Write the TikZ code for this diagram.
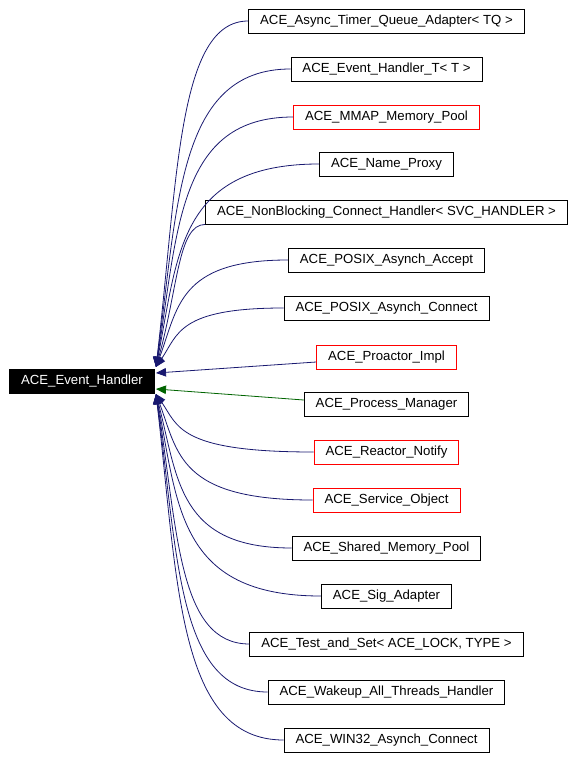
\documentclass[tikz,border=0pt]{standalone}
\usepackage{fontspec}
\setmainfont{Liberation Sans}
\usepackage{xcolor}
\definecolor{dxnavy}{HTML}{191970}
\definecolor{dxgreen}{HTML}{006400}
\usetikzlibrary{arrows.meta,positioning,calc}

\begin{document}
\begin{tikzpicture}[x=1pt,y=-1pt,
  cls/.style={rectangle,draw=black,line width=0.9pt,fill=white,
              minimum height=24pt,inner xsep=11.5pt,inner ysep=0pt,
              font=\fontsize{13.2}{16}\selectfont},
  undoc/.style={cls,draw=red},
  base/.style={cls,fill=black,text=white},
  inh/.style={-{Triangle[length=10pt,width=8.5pt]},line width=0.8pt,dxnavy},
  priv/.style={inh,dxgreen}]
\useasboundingbox (0,0) rectangle (578,759);
% parent class
\node[base] (eh) at (82,381) {ACE\_Event\_Handler};
\coordinate (hu) at (156,367);
\coordinate (hp) at (156,373);
\coordinate (hg) at (156,389);
\coordinate (hl) at (156,394);
\coordinate (bend) at (178,0);
% derived classes
\node[cls]   (c1)  at (386.5,21)  {ACE\_Async\_Timer\_Queue\_Adapter< TQ >};
\node[cls]   (c2)  at (386.5,69)  {ACE\_Event\_Handler\_T< T >};
\node[undoc] (c3)  at (386.5,117) {ACE\_MMAP\_Memory\_Pool};
\node[cls]   (c4)  at (386.5,164) {ACE\_Name\_Proxy};
\node[cls]   (c5)  at (386.5,212) {ACE\_NonBlocking\_Connect\_Handler< SVC\_HANDLER >};
\node[cls]   (c6)  at (386.5,260) {ACE\_POSIX\_Asynch\_Accept};
\node[cls]   (c7)  at (386.5,308) {ACE\_POSIX\_Asynch\_Connect};
\node[undoc] (c8)  at (386.5,357) {ACE\_Proactor\_Impl};
\node[cls]   (c9)  at (386.5,404) {ACE\_Process\_Manager};
\node[undoc] (c10) at (386.5,452) {ACE\_Reactor\_Notify};
\node[undoc] (c11) at (386.5,500) {ACE\_Service\_Object};
\node[cls]   (c12) at (386.5,548) {ACE\_Shared\_Memory\_Pool};
\node[cls]   (c13) at (386.5,596) {ACE\_Sig\_Adapter};
\node[cls]   (c14) at (386.5,644) {ACE\_Test\_and\_Set< ACE\_LOCK, TYPE >};
\node[cls]   (c15) at (386.5,692) {ACE\_Wakeup\_All\_Threads\_Handler};
\node[cls]   (c16) at (386.5,740) {ACE\_WIN32\_Asynch\_Connect};
% inheritance edges
\foreach \c/\s in {c1/west,c2/west,c3/west,c4/west,c5/south west,c6/west,c7/west}
  \draw[inh] (\c.\s) .. controls (\c.\s -| bend)
    and ($(hu)!0.55!(hu |- \c.\s)+(22,0)$) .. (hu);
\draw[inh] ($(c8.west)+(0,5)$) -- (hp);
\draw[priv] ($(c9.west)+(0,-4)$) -- (hg);
\foreach \c in {c10,c11,c12,c13,c14,c15,c16}
  \draw[inh] (\c.west) .. controls (\c.west -| bend)
    and ($(hl)!0.55!(hl |- \c.west)+(22,0)$) .. (hl);
\end{tikzpicture}
\end{document}
